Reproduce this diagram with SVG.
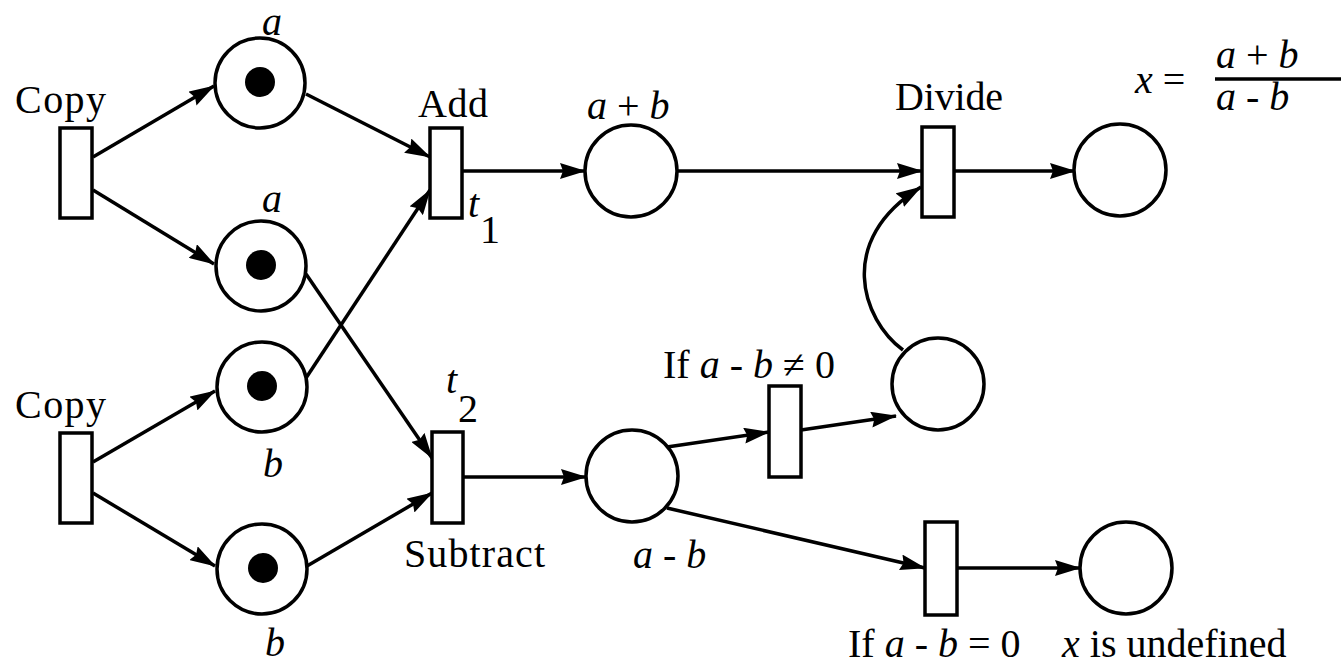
<svg xmlns="http://www.w3.org/2000/svg" width="1341" height="666" viewBox="0 0 1341 666">
<style>
.tr{fill:#fff;stroke:#000;stroke-width:3.5}
.pl{fill:#fff;stroke:#000;stroke-width:3.5}
.tk{fill:#000}
.lbl{font-family:"Liberation Serif","Times New Roman",serif;font-size:40px;fill:#000}
.it{font-style:italic}
.arc{fill:none;stroke:#000;stroke-width:3.5;marker-end:url(#ah)}
</style>
<defs>
<marker id="ah" markerUnits="userSpaceOnUse" markerWidth="26" markerHeight="16" refX="25" refY="8" orient="auto">
<path d="M0,0 L26,8 L0,16 L3,8 z" fill="#000"/>
</marker>
</defs>
<rect width="1341" height="666" fill="#fff"/>
<g id="connectors">
<line class="arc" x1="93" y1="157" x2="214" y2="86"/>
<line class="arc" x1="93" y1="190" x2="214" y2="264"/>
<line class="arc" x1="306" y1="94" x2="430" y2="157"/>
<line class="arc" x1="306" y1="378" x2="430" y2="190"/>
<line class="arc" x1="306" y1="274" x2="432" y2="458"/>
<line class="arc" x1="307" y1="566" x2="432" y2="493"/>
<line class="arc" x1="93" y1="462" x2="215" y2="391"/>
<line class="arc" x1="93" y1="493" x2="215" y2="566"/>
<line class="arc" x1="462" y1="171" x2="585" y2="171"/>
<line class="arc" x1="677" y1="171" x2="922" y2="171"/>
<line class="arc" x1="954" y1="171" x2="1075" y2="171"/>
<line class="arc" x1="463" y1="477" x2="586" y2="477"/>
<line class="arc" x1="667" y1="447" x2="769" y2="432"/>
<line class="arc" x1="801" y1="430" x2="896" y2="416"/>
<path class="arc" d="M903,350 C862,320 835,240 921,187"/>
<line class="arc" x1="667" y1="508" x2="925" y2="568"/>
<line class="arc" x1="957" y1="568" x2="1080" y2="568"/>
</g>
<g id="copy1">
<rect class="tr" x="60" y="128" width="32" height="90"/>
<text class="lbl" x="15" y="113" textLength="91">Copy</text>
</g>
<g id="copy2">
<rect class="tr" x="60" y="433" width="32" height="90"/>
<text class="lbl" x="15" y="418" textLength="91">Copy</text>
</g>
<g id="place-a1">
<circle class="pl" cx="260" cy="83" r="45"/>
<circle class="tk" cx="260" cy="82" r="15"/>
<text class="lbl it" x="262" y="35" font-size="32">a</text>
</g>
<g id="place-a2">
<circle class="pl" cx="261" cy="266" r="45"/>
<circle class="tk" cx="261" cy="265" r="15"/>
<text class="lbl it" x="262" y="212" font-size="36">a</text>
</g>
<g id="place-b1">
<circle class="pl" cx="262" cy="387" r="45"/>
<circle class="tk" cx="262" cy="386" r="15"/>
<text class="lbl it" x="263" y="477" font-size="38">b</text>
</g>
<g id="place-b2">
<circle class="pl" cx="262" cy="569" r="45"/>
<circle class="tk" cx="263" cy="568" r="15"/>
<text class="lbl it" x="265" y="656" font-size="36">b</text>
</g>
<g id="add">
<rect class="tr" x="430" y="128" width="32" height="90"/>
<text class="lbl" x="418" y="117" textLength="70">Add</text>
<text class="lbl it" x="468" y="217" font-size="36">t</text>
<text class="lbl" x="480" y="243">1</text>
</g>
<g id="subtract">
<rect class="tr" x="432" y="432" width="31" height="91"/>
<text class="lbl" x="404" y="567" textLength="141">Subtract</text>
<text class="lbl it" x="446" y="393" font-size="36">t</text>
<text class="lbl" x="458" y="422">2</text>
</g>
<g id="place-aplusb">
<circle class="pl" cx="631" cy="171" r="46"/>
<text class="lbl" x="587" y="119"><tspan class="it">a</tspan> + <tspan class="it">b</tspan></text>
</g>
<g id="divide">
<rect class="tr" x="922" y="127" width="32" height="90"/>
<text class="lbl" x="895" y="110" textLength="108">Divide</text>
</g>
<g id="place-out1">
<circle class="pl" cx="1120" cy="170" r="46"/>
</g>
<g id="formula">
<text class="lbl" x="1135" y="93"><tspan class="it">x</tspan> =</text>
<text class="lbl" x="1216" y="68"><tspan class="it">a</tspan> + <tspan class="it">b</tspan></text>
<line x1="1215" y1="79" x2="1341" y2="79" stroke="#000" stroke-width="3.5"/>
<text class="lbl" x="1216" y="110"><tspan class="it">a</tspan> - <tspan class="it">b</tspan></text>
</g>
<g id="place-aminusb">
<circle class="pl" cx="632" cy="476" r="46"/>
<text class="lbl" x="633" y="568"><tspan class="it">a</tspan> - <tspan class="it">b</tspan></text>
</g>
<g id="if-nonzero">
<rect class="tr" x="769" y="386" width="32" height="91"/>
<text class="lbl" x="663" y="378">If <tspan class="it">a</tspan> - <tspan class="it">b</tspan> ≠ 0</text>
</g>
<g id="place-mid">
<circle class="pl" cx="938" cy="384" r="46"/>
</g>
<g id="if-zero">
<rect class="tr" x="925" y="522" width="32" height="93"/>
<text class="lbl" x="848" y="657" font-size="38">If <tspan class="it">a</tspan> - <tspan class="it">b</tspan> = 0<tspan x="1062" class="it">x</tspan> is undefined</text>
</g>
<g id="place-out2">
<circle class="pl" cx="1126" cy="568" r="46"/>
</g>
</svg>
